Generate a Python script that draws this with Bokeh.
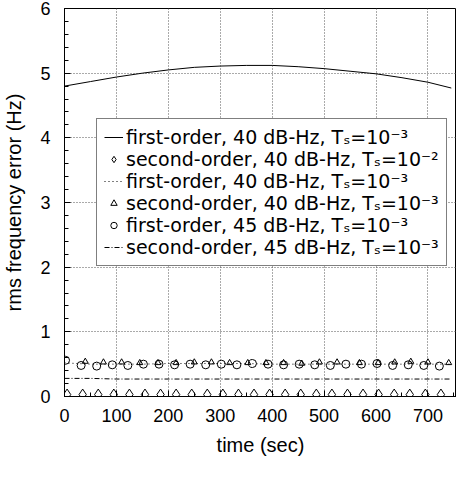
from bokeh.plotting import figure
from bokeh.models import Range1d, SingleIntervalTicker, Legend, LegendItem
from bokeh.embed import file_html
from bokeh.resources import INLINE

# ---- data ----
t_line1 = [0, 50, 100, 150, 200, 250, 300, 350, 400, 450, 500, 550, 600, 650, 700, 745]
v_line1 = [4.80, 4.87, 4.94, 5.00, 5.05, 5.09, 5.11, 5.12, 5.12, 5.10, 5.07, 5.03, 4.99, 4.93, 4.86, 4.77]

t_diam = [5, 35, 65, 95, 125, 155, 185, 215, 245, 275, 305, 335, 365, 395, 425, 455,
          485, 515, 545, 575, 605, 635, 665, 695, 725]
v_diam = [0.03, 0.03, 0.03, 0.03, 0.03, 0.03, 0.03, 0.03, 0.03, 0.03, 0.03, 0.03, 0.03,
          0.03, 0.03, 0.03, 0.03, 0.03, 0.03, 0.03, 0.03, 0.03, 0.03, 0.03, 0.03]

t_dot = [0, 50, 100, 150, 200, 250, 300, 350, 400, 450, 500, 550, 600, 650, 700, 745]
v_dot = [0.52, 0.50, 0.50, 0.50, 0.51, 0.51, 0.51, 0.51, 0.50, 0.50, 0.50, 0.50, 0.50, 0.50, 0.50, 0.50]

t_tri = [40, 75, 110, 145, 180, 215, 250, 283, 318, 353, 388, 422, 457, 491, 525, 568,
         604, 636, 667, 700, 740]
v_tri = [0.54, 0.53, 0.53, 0.52, 0.52, 0.52, 0.53, 0.53, 0.52, 0.52, 0.52, 0.52, 0.51,
         0.53, 0.53, 0.52, 0.52, 0.53, 0.54, 0.53, 0.52]

t_circ = [2, 32, 62, 92, 122, 152, 182, 212, 242, 272, 302, 332, 362, 392, 422, 452,
          482, 512, 542, 572, 602, 632, 662, 692, 722]
v_circ = [0.56, 0.48, 0.47, 0.49, 0.48, 0.50, 0.50, 0.49, 0.50, 0.49, 0.50, 0.49, 0.51,
          0.50, 0.49, 0.50, 0.49, 0.48, 0.50, 0.50, 0.51, 0.48, 0.49, 0.48, 0.47]

t_dd = [0, 50, 100, 150, 200, 250, 300, 350, 400, 450, 500, 550, 600, 650, 700, 745]
v_dd = [0.28, 0.28, 0.27, 0.27, 0.27, 0.27, 0.27, 0.27, 0.27, 0.27, 0.27, 0.27, 0.27, 0.27, 0.27, 0.27]

labels = [
    "first-order, 40 dB-Hz, T\u209b=10\u207b\u00b3",
    "second-order, 40 dB-Hz, T\u209b=10\u207b\u00b2",
    "first-order, 40 dB-Hz, T\u209b=10\u207b\u00b3",
    "second-order, 40 dB-Hz, T\u209b=10\u207b\u00b3",
    "first-order, 45 dB-Hz, T\u209b=10\u207b\u00b3",
    "second-order, 45 dB-Hz, T\u209b=10\u207b\u00b3",
]

x_label = "time (sec)"
y_label = "rms frequency error (Hz)"

# ---- figure ----
p = figure(width=456, height=462, output_backend="svg", toolbar_location=None,
           x_range=Range1d(0, 755), y_range=Range1d(0, 6),
           min_border_left=60, min_border_right=0, min_border_top=8, min_border_bottom=66,
           background_fill_color="white", border_fill_color="white")
p.outline_line_color = "black"
p.outline_line_width = 1

p.xaxis.ticker = SingleIntervalTicker(interval=100, num_minor_ticks=2)
p.yaxis.ticker = SingleIntervalTicker(interval=1, num_minor_ticks=5)
for ax in (p.xaxis, p.yaxis):
    ax.axis_line_color = "black"
    ax.major_tick_line_color = "black"
    ax.minor_tick_line_color = "black"
    ax.major_tick_in = 6
    ax.major_tick_out = 0
    ax.minor_tick_in = 4
    ax.minor_tick_out = 0
    ax.major_label_text_font = "Liberation Sans"
    ax.major_label_text_font_size = "18px"
    ax.major_label_text_color = "black"
    ax.axis_label_text_font = "Liberation Sans"
    ax.axis_label_text_font_size = "20px"
    ax.axis_label_text_font_style = "normal"
    ax.axis_label_text_color = "black"
p.xaxis.axis_label = x_label
p.yaxis.axis_label = y_label
p.xaxis.major_label_standoff = 12
p.yaxis.major_label_standoff = 14
p.xaxis.axis_label_standoff = 9
p.yaxis.axis_label_standoff = 12

p.grid.grid_line_color = "#555555"
p.grid.grid_line_dash = "1 2"
p.grid.grid_line_width = 1

r1 = p.line(t_line1, v_line1, line_color="black", line_width=1)
r2 = p.scatter(t_diam, v_diam, marker="diamond", size=11, line_color="black",
               fill_color=None, line_width=1)
r3 = p.line(t_dot, v_dot, line_color="black", line_width=1, line_dash="1 3")
r4 = p.scatter(t_tri, v_tri, marker="triangle", size=6, line_color="black",
               fill_color=None, line_width=1)
r5 = p.scatter(t_circ, v_circ, marker="circle", size=8, line_color="black",
               fill_color=None, line_width=1)
r6 = p.line(t_dd, v_dd, line_color="black", line_width=1, line_dash="5 2 1 2")

items = [LegendItem(label=lab, renderers=[r]) for lab, r in zip(labels, [r1, r2, r3, r4, r5, r6])]
legend = Legend(items=items, location=(32, 130), orientation="vertical",
                label_text_font="DejaVu Sans", label_text_font_size="19px",
                label_text_color="black", label_standoff=3, glyph_width=19,
                glyph_height=16, label_height=19, spacing=0, padding=7, margin=0,
                border_line_color="black", border_line_width=1,
                background_fill_color="white", background_fill_alpha=1.0)
p.add_layout(legend, "center")

open("out.html", "w").write(file_html(p, INLINE))
